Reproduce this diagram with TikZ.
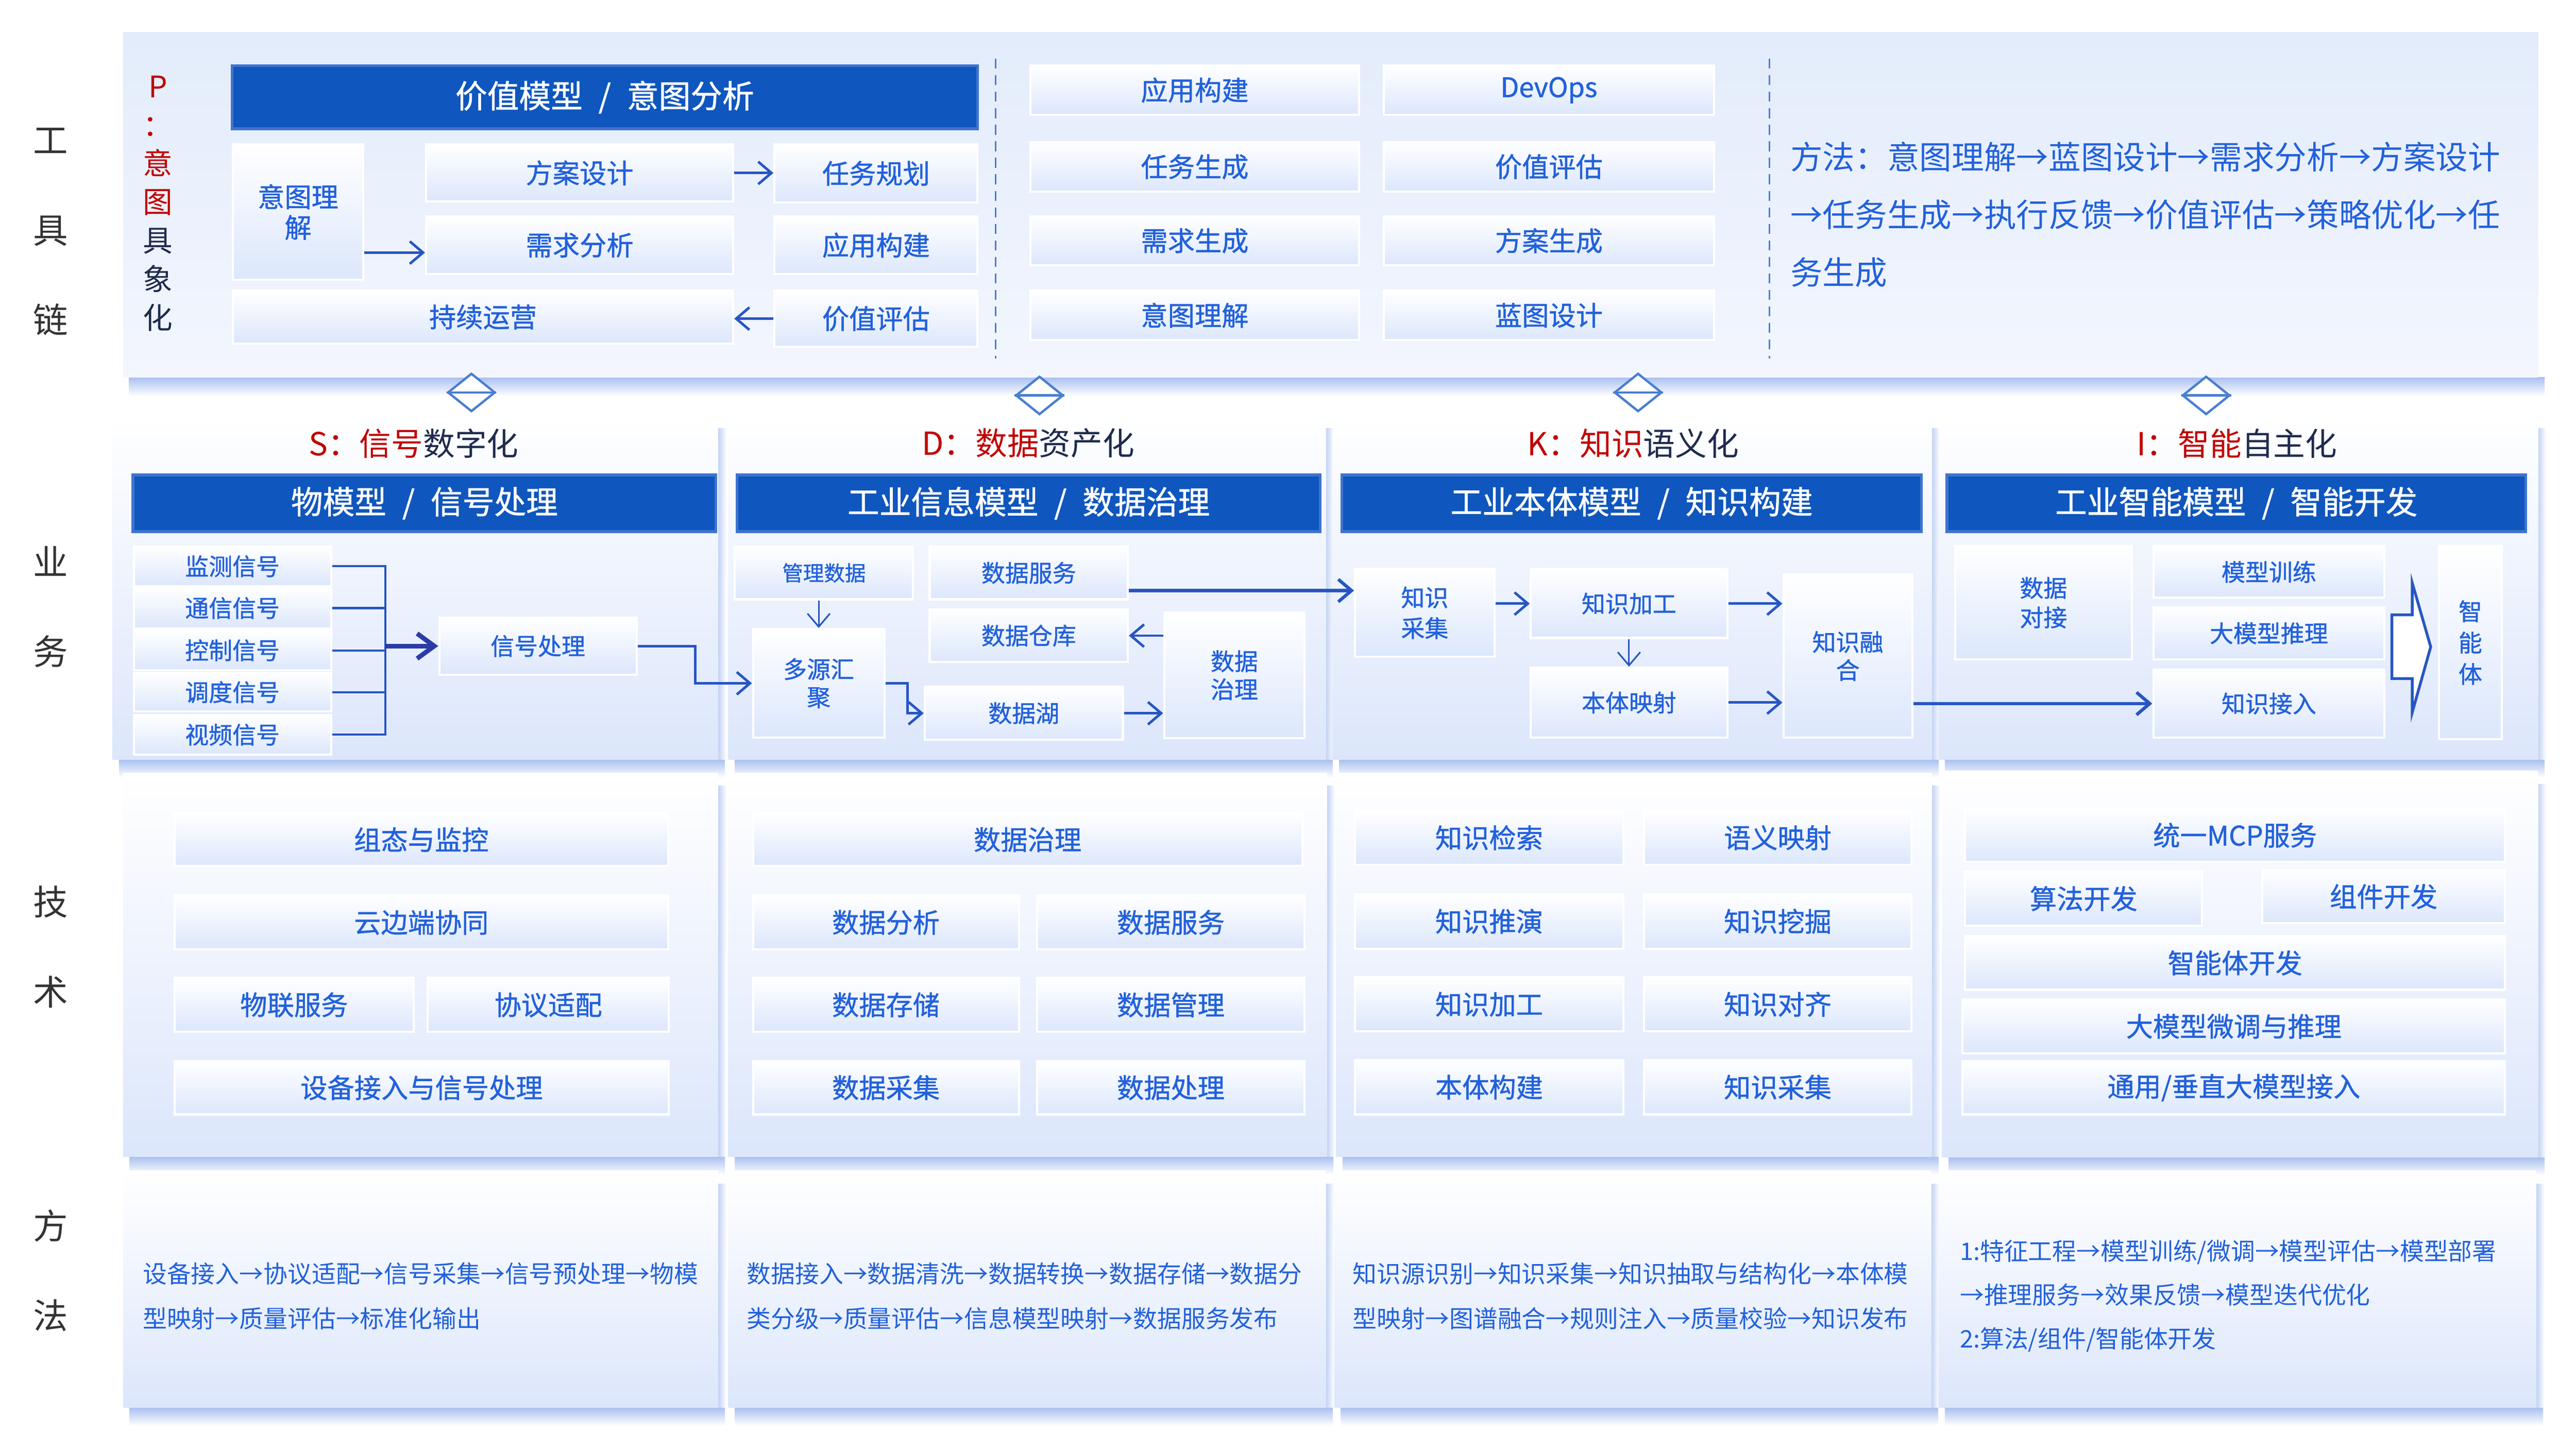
\documentclass[tikz,border=0pt]{standalone}
\usepackage{fontspec}
\setmainfont{Noto Sans CJK SC}
\newfontfamily\boxfont{Noto Sans CJK SC}[FakeBold=1]
\usetikzlibrary{arrows.meta,shapes.geometric}
\definecolor{hdblue}{HTML}{0F56BE}
\definecolor{hdline}{HTML}{3F74CE}
\definecolor{txblue}{HTML}{2261DB}
\definecolor{tred}{HTML}{C00000}
\definecolor{tnavy}{HTML}{1E2B4D}
\definecolor{labgray}{HTML}{333333}
\definecolor{arblue}{HTML}{2756C3}
\definecolor{arnavy}{HTML}{2B3CA6}
\definecolor{boxbot}{HTML}{DCE7FC}
\definecolor{panbot}{HTML}{DCE6FB}
\definecolor{toptop}{HTML}{E3ECFB}
\definecolor{topbot}{HTML}{F3F6FE}
\definecolor{shblue}{HTML}{A9C0F0}
\definecolor{dashblue}{HTML}{4A7ED0}

\begin{document}
\begin{tikzpicture}[x=0.25mm, y=-0.25mm,
                    >={Straight Barb[length=2mm,width=3.4mm]},
                    tbox/.style args={#1/#2/#3/#4}{at={({(#1+#3)/2},{(#2+#4)/2})},
                                 minimum width={(#3-#1)*0.25mm}, minimum height={(#4-#2)*0.25mm},
                                 inner sep=0pt, draw=white, line width=0.9pt,
                                 top color=white, bottom color=boxbot, text=txblue,
                                 align=center, font=\boxfont\fontsize{11.6}{13.2}\selectfont},
                    sbox/.style args={#1/#2/#3/#4}{tbox=#1/#2/#3/#4,
                                 font=\boxfont\fontsize{10.2}{12.1}\selectfont},
                    hdbox/.style args={#1/#2/#3/#4}{at={({(#1+#3)/2},{(#2+#4)/2})},
                                 minimum width={(#3-#1)*0.25mm}, minimum height={(#4-#2)*0.25mm},
                                 inner sep=0pt, draw=hdline, line width=1.2pt, fill=hdblue,
                                 text=white, font=\boxfont\fontsize{13.7}{16}\selectfont},
                    sectitle/.style={text=tnavy, font=\fontsize{13.7}{16}\selectfont},
                    rowlab/.style={text=labgray, align=center, font=\fontsize{15}{38.7}\selectfont},
                    methtext/.style={anchor=west, inner sep=0pt, text=txblue, align=left,
                                     font=\fontsize{10.4}{19.2}\selectfont},
                    dmd/.style={diamond, draw=dashblue, fill=white, line width=1pt,
                                minimum width=7.2mm, minimum height=5.8mm, inner sep=0pt},
                    dashsep/.style={draw=dashblue, line width=0.6pt, dash pattern=on 1.5mm off 1mm},
                    arr/.style={->, draw=arblue, line width=1.1pt},
                    arrt/.style={->, draw=arblue, line width=0.7pt},
                    arrk/.style={-{Straight Barb[length=2.6mm,width=3.8mm]}, draw=arnavy, line width=2pt},
                    brk/.style={draw=arblue, line width=0.9pt},
                    blk/.style={draw=arblue, fill=white, line width=1.2pt}]
	\useasboundingbox (0,0) rectangle (1560,877.5);
	\fill[white] (0,0) rectangle (1560,877.5);

	% panels and their shadows
	\shade[top color=shblue, bottom color=white] (78,228.5) rectangle (1541,240);
	\shade[top color=toptop, bottom color=topbot] (74.5,19.5) rectangle (1537,228.5);
	\foreach \xa/\ya/\xb/\yb in {68/251.4/435/460, 441/251.4/803/460, 807/251.4/1170/460,
	                             1174/251.4/1537/460, 74.5/468/435/700.5, 441/468/803.5/700.5,
	                             809/468/1170/700.5, 1176/467/1537/701, 74.5/709/435/852.5,
	                             441/709/803/852.5, 808/709/1169.5/852.5, 1174/709/1536/852.5}{
		\shade[top color=shblue, bottom color=white] (\xa+4,\yb) rectangle (\xb+4,\yb+11);
		\shade[left color=shblue!70, right color=white] (\xb,\ya+8) rectangle (\xb+5,\yb);
		\shade[top color=white, bottom color=panbot] (\xa,\ya) rectangle (\xb,\yb);
	}

	% row labels
	\node[rowlab] (lab1) at (30.7,140.4) {工\\具\\链};
	\node[rowlab] (lab2) at (30.7,367.5) {业\\务};
	\node[rowlab] (lab3) at (30.7,573.5) {技\\术};
	\node[rowlab] (lab4) at (30.7,769.5) {方\\法};

	% tool chain
	\node[align=center, text=tnavy, font=\fontsize{12.8}{16.6}\selectfont] (plab) at (95.6,123.2)
		{\color{tred}P\\\color{tred}：\\\color{tred}意\\\color{tred}图\\具\\象\\化};
	\node[hdbox=140.5/39.7/592/78] (hp) {价值模型\hspace{0.5em}/\hspace{0.5em}意图分析};
	\node[tbox=141/87.5/220/169.4] (yt) {意图理\\解};
	\node[tbox=258/87.5/444/122] (fa) {方案设计};
	\node[tbox=469/87.5/592/122.5] (rw) {任务规划};
	\node[tbox=258/131/444/166] (xq) {需求分析};
	\node[tbox=469/131/592/166] (yg) {应用构建};
	\node[tbox=141/176/444/208] (cx) {持续运营};
	\node[tbox=469/176/592/210] (jz) {价值评估};

	\node[tbox=624/39.7/823/69.5] (m1) {应用构建};
	\node[tbox=838/39.7/1038/69.5] (m2) {DevOps};
	\node[tbox=624/86/823/116] (m3) {任务生成};
	\node[tbox=838/86/1038/116] (m4) {价值评估};
	\node[tbox=624/131/823/160.6] (m5) {需求生成};
	\node[tbox=838/131/1038/160.6] (m6) {方案生成};
	\node[tbox=624/176/823/206] (m7) {意图理解};
	\node[tbox=838/176/1038/206] (m8) {蓝图设计};

	\draw[dashsep] (603,35.6) -- (603,217);
	\draw[dashsep] (1071.6,35.6) -- (1071.6,217);

	\node[methtext, font=\fontsize{13.9}{24.9}\selectfont] (mtop) at (1084,130)
		{方法：意图理解→蓝图设计→需求分析→方案设计\\→任务生成→执行反馈→价值评估→策略优化→任\\务生成};

	\coordinate (p1) at (0,153);
	\path (fa.east) edge[arr] (fa.east -| rw.west);
	\path (yt.east |- p1) edge[arr] (xq.west |- p1);
	\path (jz.west) edge[arr] (jz.west -| cx.east);

	% links between the layers
	\node[dmd] (dg1) at (285.5,237.7) {};
	\node[dmd] (dg2) at (629.5,239.5) {};
	\node[dmd] (dg3) at (992,237.7) {};
	\node[dmd] (dg4) at (1336,239.5) {};
	\draw[dashblue, line width=1pt] (dg1.west) -- (dg1.east);
	\draw[dashblue, line width=1pt] (dg2.west) -- (dg2.east);
	\draw[dashblue, line width=1pt] (dg3.west) -- (dg3.east);
	\draw[dashblue, line width=1pt] (dg4.west) -- (dg4.east);

	% business
	\node[sectitle] (ts) at (250.5,268.5) {{\color{tred}S：信号}数字化};
	\node[sectitle] (td) at (622.6,268.5) {{\color{tred}D：数据}资产化};
	\node[sectitle] (tk) at (989,268.5) {{\color{tred}K：知识}语义化};
	\node[sectitle] (ti) at (1354.7,268.5) {{\color{tred}I：智能}自主化};
	\node[hdbox=80.5/287.6/433.6/322] (hs) {物模型\hspace{0.5em}/\hspace{0.5em}信号处理};
	\node[hdbox=446.4/287.6/799.5/322] (hd) {工业信息模型\hspace{0.5em}/\hspace{0.5em}数据治理};
	\node[hdbox=812.6/287.6/1163.6/322] (hk) {工业本体模型\hspace{0.5em}/\hspace{0.5em}知识构建};
	\node[hdbox=1179/287.6/1529.6/322] (hi) {工业智能模型\hspace{0.5em}/\hspace{0.5em}智能开发};

	\node[sbox=81/331/200.5/355] (sig1) {监测信号};
	\node[sbox=81/356/200.5/380.6] (sig2) {通信信号};
	\node[sbox=81/381.8/200.5/406] (sig3) {控制信号};
	\node[sbox=81/407.5/200.5/431] (sig4) {调度信号};
	\node[sbox=81/433/200.5/457] (sig5) {视频信号};
	\node[sbox=266/374/385.5/408.6] (xh) {信号处理};

	\node[sbox=445/331/553/363, font=\boxfont\fontsize{9}{11}\selectfont] (gl) {管理数据};
	\node[sbox=563/331/683/363] (fw) {数据服务};
	\node[sbox=563/369/683/401] (ck) {数据仓库};
	\node[sbox=456/381/535.6/446.7] (dy) {多源汇\\聚};
	\node[sbox=560/416/680/448] (sh) {数据湖};
	\node[sbox=705/371/790/447] (zl) {数据\\治理};

	\node[sbox=820.6/344.5/905/397.8, font=\boxfont\fontsize{10.2}{13.2}\selectfont] (zc) {知识\\采集};
	\node[sbox=927/344.8/1046/386.4] (zj) {知识加工};
	\node[sbox=927/404.4/1046/446.7] (bt) {本体映射};
	\node[sbox=1080/348/1158/446.7] (zr) {知识融\\合};

	\node[sbox=1184/330.8/1291/399.3, font=\boxfont\fontsize{10.2}{12.7}\selectfont] (dj) {数据\\对接};
	\node[sbox=1304/330.8/1444/362] (mx) {模型训练};
	\node[sbox=1304/367.8/1444/399.3] (dm) {大模型推理};
	\node[sbox=1304/405.6/1444/446.7] (jr) {知识接入};
	\node[sbox=1477/330.8/1515/447.6, font=\boxfont\fontsize{10.2}{13.5}\selectfont] (znt) {智\\能\\体};

	\coordinate (brs) at (233.4,391.3);
	\draw[brk] (sig1.east) -| (brs);
	\draw[brk] (sig5.east) -| (brs);
	\draw[brk] (sig2.east) -- (sig2.east -| brs);
	\draw[brk] (sig3.east) -- (sig3.east -| brs);
	\draw[brk] (sig4.east) -- (sig4.east -| brs);
	\path (brs) edge[arrk] (xh.west);
	\draw[arr] (xh.east) -- ++(8.75mm,0) |- (dy.west);
	\path (dy.north |- gl.south) edge[arrt] (dy.north);
	\draw[arr] (dy.east) -- ++(3.35mm,0) |- (sh.west);
	\path (ck.east -| zl.west) edge[arr] (ck.east);
	\path (sh.east) edge[arr] (sh.east -| zl.west);
	\coordinate (p2) at (0,357.7);
	\path (fw.east |- p2) edge[arr, line width=1.4pt] (zc.west |- p2);

	\path (zj.west -| zc.east) edge[arr] (zj.west);
	\path (zj.east) edge[arr] (zj.east -| zr.west);
	\path (bt.east) edge[arr] (bt.east -| zr.west);
	\path (zj.south) edge[arrt] (bt.north);
	\path (zr.east |- jr.west) edge[arr, line width=1.4pt] (jr.west);
	\draw[blk] (1448.5,372.4) -- (1460.8,372.4) -- (1460.8,353) -- (1472,391.8)
		-- (1460.8,431.5) -- (1460.8,411) -- (1448.5,411) -- cycle;

	% technology
	\node[tbox=105.7/492.7/404.6/524.4] (t1) {组态与监控};
	\node[tbox=105.7/542.4/404.6/575] (t2) {云边端协同};
	\node[tbox=105.7/592.3/250.5/625] (t3) {物联服务};
	\node[tbox=259/592.3/405/625] (t4) {协议适配};
	\node[tbox=105.7/642.6/405/675] (t5) {设备接入与信号处理};

	\node[tbox=456/492.7/788.6/524.4] (t6) {数据治理};
	\node[tbox=456/542.4/617/575] (t7) {数据分析};
	\node[tbox=628/542.4/790/575] (t8) {数据服务};
	\node[tbox=456/592.3/617/625] (t9) {数据存储};
	\node[tbox=628/592.3/790/625] (t10) {数据管理};
	\node[tbox=456/642.6/617/675] (t11) {数据采集};
	\node[tbox=628/642.6/790/675] (t12) {数据处理};

	\node[tbox=820.6/491/983/523.8] (t13) {知识检索};
	\node[tbox=995.5/491/1157.6/523.8] (t14) {语义映射};
	\node[tbox=820.6/541.5/983/574.6] (t15) {知识推演};
	\node[tbox=995.5/541.5/1157.6/574.6] (t16) {知识挖掘};
	\node[tbox=820.6/592/983/624.6] (t17) {知识加工};
	\node[tbox=995.5/592/1157.6/624.6] (t18) {知识对齐};
	\node[tbox=820.6/642/983/675] (t19) {本体构建};
	\node[tbox=995.5/642/1157.6/675] (t20) {知识采集};

	\node[tbox=1190/489.8/1517/522] (t21) {统一MCP服务};
	\node[tbox=1190/528/1333.6/560.6] (t22) {算法开发};
	\node[tbox=1370/527/1517/559] (t23) {组件开发};
	\node[tbox=1190/567/1517/599.5] (t24) {智能体开发};
	\node[tbox=1188.5/605.3/1517/638] (t25) {大模型微调与推理};
	\node[tbox=1188.5/642.6/1517/675] (t26) {通用/垂直大模型接入};

	% methods
	\node[methtext] (ms) at (86.2,785)
		{设备接入→协议适配→信号采集→信号预处理→物模\\型映射→质量评估→标准化输出};
	\node[methtext] (md) at (452,785)
		{数据接入→数据清洗→数据转换→数据存储→数据分\\类分级→质量评估→信息模型映射→数据服务发布};
	\node[methtext] (mk) at (819,785)
		{知识源识别→知识采集→知识抽取与结构化→本体模\\型映射→图谱融合→规则注入→质量校验→知识发布};
	\node[methtext, font=\fontsize{10.4}{18.8}\selectfont] (mi) at (1186.6,785)
		{1:特征工程→模型训练/微调→模型评估→模型部署\\→推理服务→效果反馈→模型迭代优化\\2:算法/组件/智能体开发};

\end{tikzpicture}
\end{document}
